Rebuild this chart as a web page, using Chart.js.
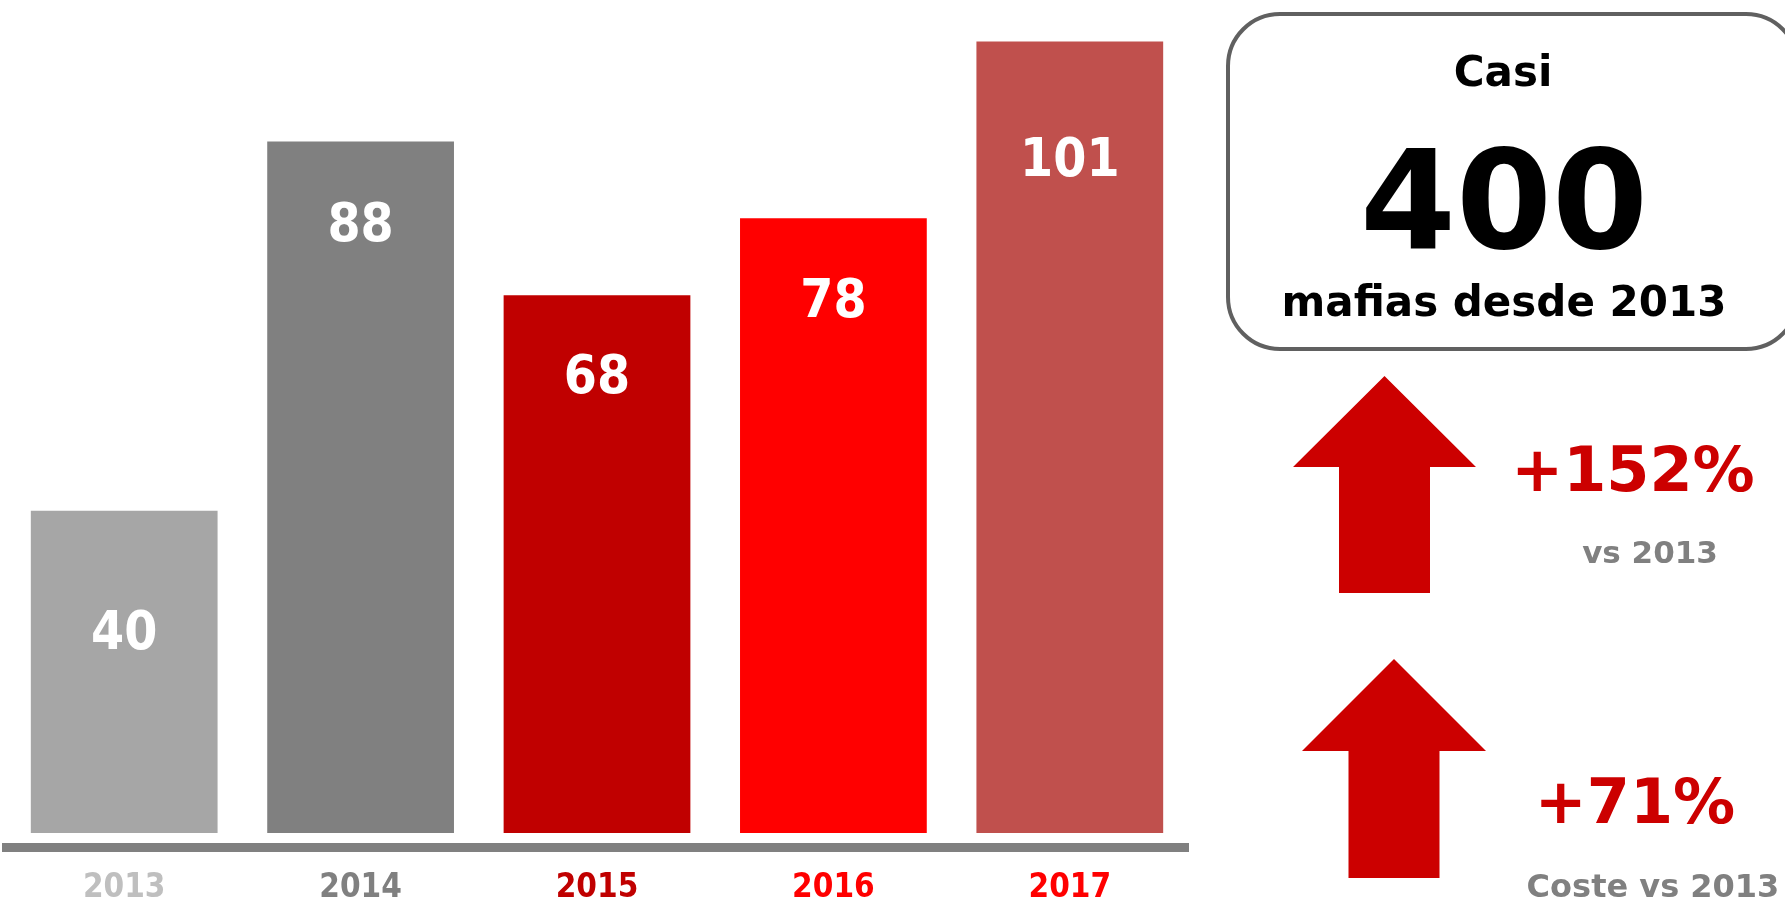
<!DOCTYPE html>
<html>
<head>
<meta charset="utf-8">
<script src="https://cdn.jsdelivr.net/npm/chart.js@4/dist/chart.umd.min.js"></script>
<style>
  html, body { margin: 0; padding: 0; background: #ffffff; }
  #wrap { position: relative; width: 1785px; height: 901px; }
</style>
</head>
<body>
<div id="wrap"><canvas id="c"></canvas></div>
<script>
// ---- data ----
const categories = ['2013', '2014', '2015', '2016', '2017'];
const values = [40, 88, 68, 78, 101];
const barColors = ['#A6A6A6', '#808080', '#C00000', '#FF0000', '#C0504D'];
const tickColors = ['#BFBFBF', '#808080', '#C00000', '#FF0000', '#FF0000'];
const boxLines = ['Casi', '400', 'mafias desde 2013'];
const stats = [
  { value: '+152%', note: 'vs 2013' },
  { value: '+71%', note: 'Coste vs 2013' }
];

// ---- styling ----
const chartFont = "'DejaVu Sans Condensed', 'DejaVu Sans', sans-serif";
const panelFont = "'DejaVu Sans', sans-serif";
const labelDrop = [125, 86, 84, 85, 121]; // px below bar top for value labels
const arrowRed = '#CC0000';

const valueLabels = {
  id: 'valueLabels',
  afterDatasetsDraw(chart) {
    const ctx = chart.ctx;
    const meta = chart.getDatasetMeta(0);
    ctx.save();
    ctx.fillStyle = '#FFFFFF';
    ctx.font = 'bold 53px ' + chartFont;
    ctx.textAlign = 'center';
    ctx.textBaseline = 'middle';
    meta.data.forEach((bar, i) => {
      ctx.fillText(String(values[i]), bar.x, bar.y + labelDrop[i]);
    });
    ctx.restore();
  }
};

function arrow(ctx, cx, tipY, headBaseY, bottomY, headHalf, shaftHalf) {
  ctx.beginPath();
  ctx.moveTo(cx, tipY);
  ctx.lineTo(cx + headHalf, headBaseY);
  ctx.lineTo(cx + shaftHalf, headBaseY);
  ctx.lineTo(cx + shaftHalf, bottomY);
  ctx.lineTo(cx - shaftHalf, bottomY);
  ctx.lineTo(cx - shaftHalf, headBaseY);
  ctx.lineTo(cx - headHalf, headBaseY);
  ctx.closePath();
  ctx.fill();
}

const sidePanel = {
  id: 'sidePanel',
  afterDraw(chart) {
    const ctx = chart.ctx;
    ctx.save();
    // rounded box
    const x = 1228, y = 14, w = 570, h = 335, r = 52;
    ctx.beginPath();
    ctx.moveTo(x + r, y);
    ctx.lineTo(x + w - r, y);
    ctx.arcTo(x + w, y, x + w, y + r, r);
    ctx.lineTo(x + w, y + h - r);
    ctx.arcTo(x + w, y + h, x + w - r, y + h, r);
    ctx.lineTo(x + r, y + h);
    ctx.arcTo(x, y + h, x, y + h - r, r);
    ctx.lineTo(x, y + r);
    ctx.arcTo(x, y, x + r, y, r);
    ctx.closePath();
    ctx.fillStyle = '#FFFFFF';
    ctx.fill();
    ctx.lineWidth = 4;
    ctx.strokeStyle = '#606060';
    ctx.stroke();

    ctx.fillStyle = '#000000';
    ctx.textAlign = 'center';
    ctx.textBaseline = 'alphabetic';
    ctx.font = 'bold 42px ' + panelFont;
    ctx.fillText(boxLines[0], 1503, 86);
    ctx.font = 'bold 138px ' + panelFont;
    ctx.fillText(boxLines[1], 1504, 248);
    ctx.font = 'bold 42px ' + panelFont;
    ctx.fillText(boxLines[2], 1504, 316);

    // arrows
    ctx.fillStyle = arrowRed;
    arrow(ctx, 1384.5, 376, 467, 593, 91.5, 45.5);
    arrow(ctx, 1394, 659, 751, 878, 92, 45.5);

    // stats
    ctx.fillStyle = arrowRed;
    ctx.font = 'bold 62px ' + panelFont;
    ctx.fillText(stats[0].value, 1633, 491);
    ctx.fillText(stats[1].value, 1635, 823);
    ctx.fillStyle = '#808080';
    ctx.font = 'bold 31px ' + panelFont;
    ctx.fillText(stats[0].note, 1650, 563);
    ctx.font = 'bold 32px ' + panelFont;
    ctx.fillText(stats[1].note, 1653, 897);
    ctx.restore();
  }
};

new Chart(document.getElementById('c'), {
  type: 'bar',
  data: {
    labels: categories,
    datasets: [{
      data: values,
      backgroundColor: barColors,
      borderWidth: 0,
      base: -1.9,
      barPercentage: 0.79,
      categoryPercentage: 1
    }]
  },
  options: {
    responsive: true,
    maintainAspectRatio: false,
    animation: false,
    events: [],
    layout: { padding: { left: 6, right: 597, top: 33.7, bottom: 0 } },
    plugins: { legend: { display: false }, tooltip: { enabled: false } },
    scales: {
      y: { display: false, min: -3.78, max: 102 },
      x: {
        grid: { display: false, drawTicks: false },
        border: { display: true, color: '#808080', width: 9 },
        ticks: {
          color: tickColors,
          font: { family: chartFont, size: 33, weight: 'bold' },
          padding: 21
        },
        afterFit: (s) => { s.height = 53.5; }
      }
    }
  },
  plugins: [valueLabels, sidePanel]
});
</script>
</body>
</html>
